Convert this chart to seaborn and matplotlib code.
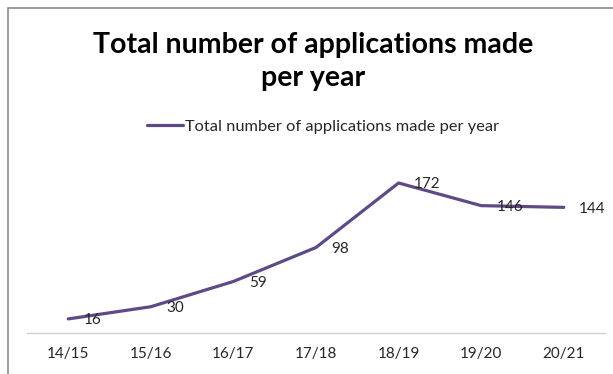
import matplotlib
matplotlib.use("Agg")
import matplotlib.pyplot as plt
import seaborn as sns
import pandas as pd
from matplotlib.patches import Rectangle

years = ["14/15", "15/16", "16/17", "17/18", "18/19", "19/20", "20/21"]
applications = [16, 30, 59, 98, 172, 146, 144]
series_name = "Total number of applications made per year"

sns.set_theme(style="white")
plt.rcParams['font.family'] = ['Lato', 'DejaVu Sans']

df = pd.DataFrame({"year": years, "applications": applications})

fig = plt.figure(figsize=(6.13, 3.74), dpi=100)
ax = fig.add_axes([0.044, 0.110, 0.943, 0.466])

sns.lineplot(data=df, x="year", y="applications", ax=ax, color="#5E4A87",
             linewidth=2.3, sort=False, label=series_name, legend=False)

ax.set_xlim(-0.5, len(years) - 0.5)
ax.set_ylim(0, 200)
for i, v in enumerate(applications):
    ax.annotate(str(v), (i, v), xytext=(11, -1), textcoords="offset points",
                ha="left", va="center", fontsize=11, color="#262626")

ax.set_xlabel("")
ax.set_ylabel("")
ax.set_yticks([])
ax.tick_params(axis="x", length=0, labelsize=11, colors="#262626", pad=10)
for s in ["top", "right", "left"]:
    ax.spines[s].set_visible(False)
ax.spines["bottom"].set_color("#D0D0D0")
ax.spines["bottom"].set_linewidth(1)

fig.text(0.511, 0.835, "Total number of applications made\nper year", ha="center",
         va="center", fontsize=20.5, fontweight="bold", color="black", linespacing=1.35)

leg = fig.legend(handles=ax.get_lines(), labels=[series_name], loc="center",
                 bbox_to_anchor=(0.527, 0.662), frameon=False, fontsize=11.8,
                 handlelength=2.2, handletextpad=0.15)

fig.patches.append(Rectangle((8 / 613, -0.1), 1.2, 1.1 - 8 / 374,
                             transform=fig.transFigure, fill=False,
                             edgecolor="#8C8C8C", linewidth=1.2))

fig.savefig("out.png", dpi=100)
